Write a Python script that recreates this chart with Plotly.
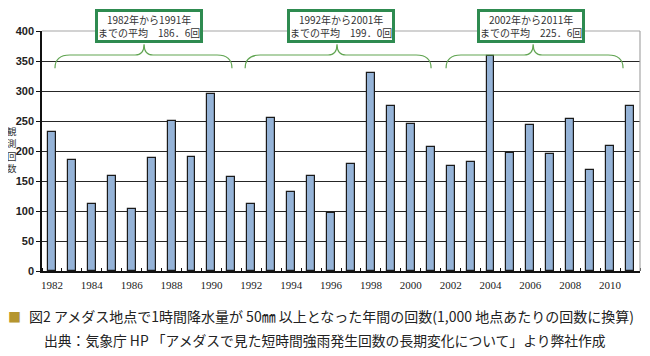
import plotly.graph_objects as go

# ---- data ----
years = list(range(1982, 2012))
counts = [231, 185, 111, 158, 103, 188, 250, 190, 295, 156,
          112, 255, 132, 159, 96, 178, 330, 275, 245, 206,
          175, 182, 358, 196, 243, 195, 253, 169, 209, 275]
tick_years = list(range(1982, 2011, 2))
y_ticks = [0, 50, 100, 150, 200, 250, 300, 350, 400]
period_starts = [1982, 1992, 2002]
period_ends = [1991, 2001, 2011]
period_avgs = ["186．6", "199．0", "225．6"]
y_title = "観測回数"
caption1 = "図2 アメダス地点で1時間降水量が 50㎜ 以上となった年間の回数(1,000 地点あたりの回数に換算)"
caption2 = "出典：気象庁 HP 「アメダスで見た短時間強雨発生回数の長期変化について」より弊社作成"

# ---- style ----
BAR = "#95B3D7"
GREEN_BOX = "#2E8B50"
GREEN_BRACE = "#62A553"
GRID = "#262626"
BORDER = "#A6A6A6"
JP = "Noto Sans CJK JP"
SERIF = "Liberation Serif"
SANS = "Liberation Sans"

# page body adds an 8px offset; compensate so the plot area lands at x 42..640, y 31..271
OFF = 8
PW, PH = 598, 240

brace_geo = [(1982.15, 1991.03, 1986.62), (1991.69, 2001.02, 1996.3), (2001.77, 2010.65, 2006.14)]
box_shift = [7, 0, -9]


def px(xpix):
    return (xpix - 42) / PW


def py(ypix):
    return (271 - ypix) / PH


fig = go.Figure()
fig.add_trace(go.Bar(
    x=years, y=counts, width=0.40,
    marker=dict(color=BAR, line=dict(color="#1a1a1a", width=1.2)),
    hoverinfo="x+y", showlegend=False,
))

shapes = []
y_end, y_h, y_pk = 338, 360, 378
for (x0, x1, xm) in brace_geo:
    c = 0.75
    m = 0.45
    path = (f"M {x0},{y_end} Q {x0},{y_h} {x0 + c},{y_h} "
            f"L {xm - m},{y_h} Q {xm},{y_h} {xm},{y_pk} "
            f"Q {xm},{y_h} {xm + m},{y_h} L {x1 - c},{y_h} "
            f"Q {x1},{y_h} {x1},{y_end}")
    shapes.append(dict(type="path", path=path, xref="x", yref="y",
                       line=dict(color=GREEN_BRACE, width=1.2), layer="above"))

shapes.append(dict(type="line", xref="paper", yref="paper", x0=0, x1=1, y0=1, y1=1,
                   line=dict(color=BORDER, width=1.2), layer="above"))
shapes.append(dict(type="line", xref="paper", yref="paper", x0=1, x1=1, y0=0, y1=1,
                   line=dict(color=BORDER, width=1.2), layer="above"))

annotations = []
for s, e, avg, sh in zip(period_starts, period_ends, period_avgs, box_shift):
    annotations.append(dict(
        text=f"{s}年から{e}年<br>までの平均　{avg}回",
        xref="x", yref="paper", x=(s + e) / 2, y=py(26), xshift=sh,
        xanchor="center", yanchor="middle", showarrow=False,
        font=dict(family=JP, size=10, color="#333333"),
        bgcolor="white", bordercolor=GREEN_BOX, borderwidth=3, borderpad=0,
    ))

annotations.append(dict(
    text="<br>".join(y_title), xref="paper", yref="paper",
    x=px(12), y=py(149), xanchor="center", yanchor="middle",
    showarrow=False, font=dict(family=JP, size=9.5, color="#333333"),
))
annotations.append(dict(
    text="■", xref="paper", yref="paper", x=px(14), y=py(316),
    xanchor="center", yanchor="middle", showarrow=False,
    font=dict(family=JP, size=13, color="#B5952F"),
))
annotations.append(dict(
    text=caption1, xref="paper", yref="paper", x=px(27), y=py(316),
    xanchor="left", yanchor="middle", showarrow=False,
    font=dict(family=JP, size=14, color="#222222"),
))
annotations.append(dict(
    text=caption2, xref="paper", yref="paper", x=px(42), y=py(340),
    xanchor="left", yanchor="middle", showarrow=False,
    font=dict(family=JP, size=13.8, color="#222222"),
))

fig.update_layout(
    width=650 - OFF, height=356 - OFF,
    margin=dict(l=42 - OFF, r=650 - 42 - PW, t=31 - OFF, b=356 - 271, autoexpand=False),
    paper_bgcolor="white", plot_bgcolor="white",
    bargap=0,
    shapes=shapes, annotations=annotations,
    xaxis=dict(
        range=[1981.5, 2011.5], tickmode="array", tickvals=tick_years,
        ticktext=[str(y) for y in tick_years], ticks="", ticklabelstandoff=3,
        tickfont=dict(family=SERIF, size=11, color="#222222"),
        showgrid=False, showline=True, linecolor="#111111", linewidth=2,
        minor=dict(tick0=1981.5, dtick=1, ticks="inside", ticklen=3,
                   tickcolor="#111111", tickwidth=1, showgrid=False),
        zeroline=False, fixedrange=True,
    ),
    yaxis=dict(
        range=[0, 400], tickmode="array", tickvals=y_ticks,
        ticks="outside", ticklen=4, tickcolor="#111111",
        tickfont=dict(family=SANS, size=11, color="#222222", weight="bold"),
        showgrid=True, gridcolor=GRID, gridwidth=1,
        showline=True, linecolor="#111111", linewidth=1.5,
        zeroline=False, fixedrange=True,
    ),
)

fig.write_html("out.html")
